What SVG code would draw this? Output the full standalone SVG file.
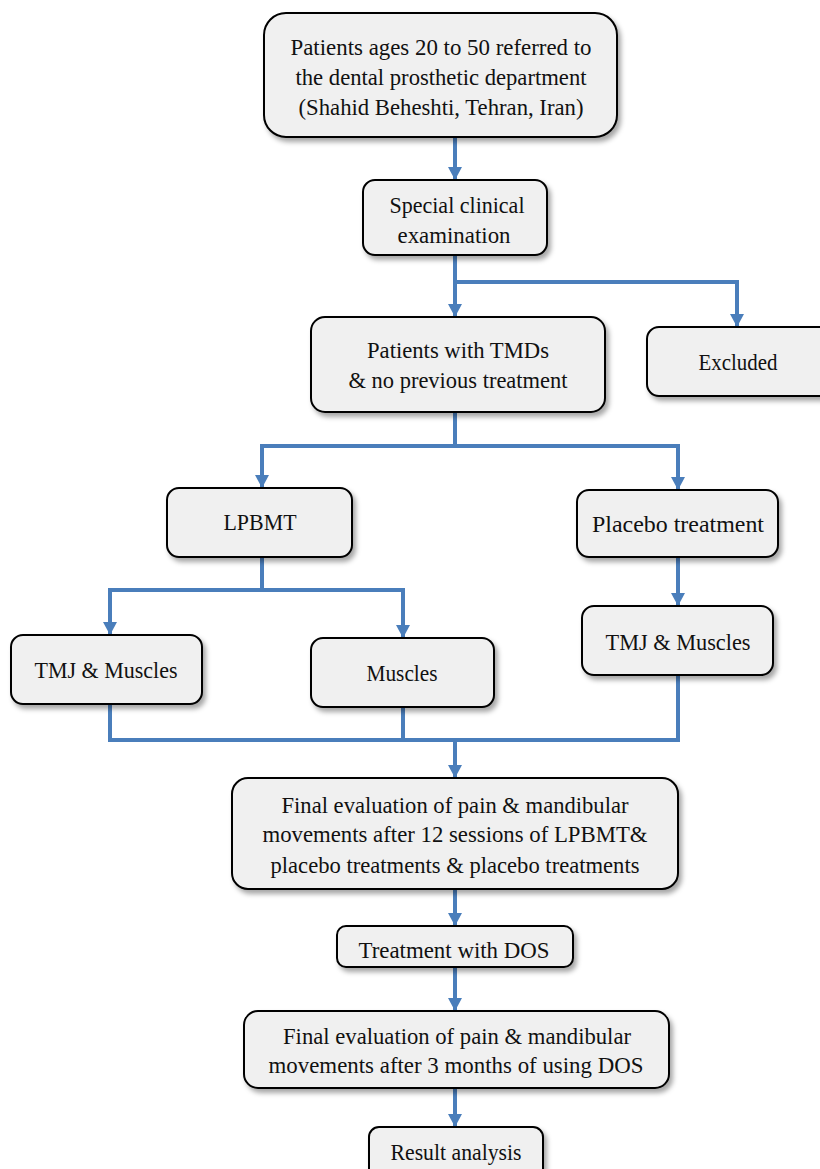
<svg xmlns="http://www.w3.org/2000/svg" width="820" height="1169" viewBox="0 0 820 1169">
<style>
.box{fill:#f0f0f0;stroke:#000;stroke-width:2;filter:url(#sh)}
.t{font-family:"Liberation Serif","Times New Roman",serif;font-size:24px;fill:#111;text-anchor:middle}
.c{fill:none;stroke:#4a7ebb;stroke-width:4}
</style>
<defs>
<filter id="sh" x="-10%" y="-10%" width="130%" height="140%">
<feDropShadow dx="3" dy="4" stdDeviation="2.5" flood-color="#000" flood-opacity="0.35"/>
</filter>
<marker id="ah" markerUnits="userSpaceOnUse" markerWidth="14" markerHeight="14" viewBox="0 0 14 14" refX="13" refY="7" orient="auto">
<path d="M0,0 L13,7 L0,14 Z" fill="#4a7ebb"/>
</marker>
</defs>
<g id="connectors">
<path class="c" d="M455,137 V180" marker-end="url(#ah)"/>
<path class="c" d="M455,255 V317" marker-end="url(#ah)"/>
<path class="c" d="M455,282 H737 V327" marker-end="url(#ah)"/>
<path class="c" d="M455,412 V446"/>
<path class="c" d="M455,446 H262 V488" marker-end="url(#ah)"/>
<path class="c" d="M455,446 H678 V490" marker-end="url(#ah)"/>
<path class="c" d="M262,557 V590"/>
<path class="c" d="M262,590 H110 V635" marker-end="url(#ah)"/>
<path class="c" d="M262,590 H403 V638" marker-end="url(#ah)"/>
<path class="c" d="M678,557 V606" marker-end="url(#ah)"/>
<path class="c" d="M110,704 V740 H678 V675"/>
<path class="c" d="M403,707 V740"/>
<path class="c" d="M455,740 V778" marker-end="url(#ah)"/>
<path class="c" d="M455,889 V926" marker-end="url(#ah)"/>
<path class="c" d="M455,967 V1011" marker-end="url(#ah)"/>
<path class="c" d="M455,1088 V1127" marker-end="url(#ah)"/>
</g>
<g id="n1"><rect class="box" x="264" y="13" width="353" height="124" rx="22"/>
<text class="t" x="441" y="55" textLength="301" lengthAdjust="spacingAndGlyphs">Patients  ages 20 to 50 referred  to</text>
<text class="t" x="441" y="85" textLength="291" lengthAdjust="spacingAndGlyphs">the  dental  prosthetic  department</text>
<text class="t" x="441" y="115" textLength="285" lengthAdjust="spacingAndGlyphs">(Shahid  Beheshti,  Tehran,  Iran)</text></g>
<g id="n2"><rect class="box" x="363" y="180" width="184" height="75" rx="12"/>
<text class="t" x="457" y="213" textLength="135" lengthAdjust="spacingAndGlyphs">Special clinical</text>
<text class="t" x="454" y="243" textLength="113" lengthAdjust="spacingAndGlyphs">examination</text></g>
<g id="n3"><rect class="box" x="311" y="317" width="294" height="95" rx="14"/>
<text class="t" x="458" y="358" textLength="182" lengthAdjust="spacingAndGlyphs">Patients  with  TMDs</text>
<text class="t" x="458" y="388" textLength="219" lengthAdjust="spacingAndGlyphs">&amp; no previous  treatment</text></g>
<g id="n4"><rect class="box" x="647" y="327" width="190" height="69" rx="12"/>
<text class="t" x="738" y="370" textLength="79" lengthAdjust="spacingAndGlyphs">Excluded</text></g>
<g id="n5"><rect class="box" x="167" y="488" width="185" height="69" rx="12"/>
<text class="t" x="260" y="530" textLength="73" lengthAdjust="spacingAndGlyphs">LPBMT</text></g>
<g id="n6"><rect class="box" x="577" y="490" width="201" height="67" rx="12"/>
<text class="t" x="678" y="532" textLength="172" lengthAdjust="spacingAndGlyphs">Placebo  treatment</text></g>
<g id="n7"><rect class="box" x="11" y="635" width="191" height="69" rx="12"/>
<text class="t" x="106" y="678" textLength="143" lengthAdjust="spacingAndGlyphs">TMJ  &amp; Muscles</text></g>
<g id="n8"><rect class="box" x="311" y="638" width="183" height="69" rx="12"/>
<text class="t" x="402" y="681" textLength="71" lengthAdjust="spacingAndGlyphs">Muscles</text></g>
<g id="n9"><rect class="box" x="582" y="606" width="191" height="69" rx="12"/>
<text class="t" x="678" y="650" textLength="145" lengthAdjust="spacingAndGlyphs">TMJ  &amp; Muscles</text></g>
<g id="n10"><rect class="box" x="232" y="778" width="446" height="111" rx="16"/>
<text class="t" x="455" y="813" textLength="347" lengthAdjust="spacingAndGlyphs">Final  evaluation  of pain &amp; mandibular</text>
<text class="t" x="455" y="842" textLength="385" lengthAdjust="spacingAndGlyphs">movements  after  12 sessions  of LPBMT&amp;</text>
<text class="t" x="455" y="873" textLength="369" lengthAdjust="spacingAndGlyphs">placebo  treatments  &amp; placebo  treatments</text></g>
<g id="n11"><rect class="box" x="337" y="926" width="236" height="41" rx="9"/>
<text class="t" x="454" y="958" textLength="191" lengthAdjust="spacingAndGlyphs">Treatment  with  DOS</text></g>
<g id="n12"><rect class="box" x="244" y="1011" width="425" height="77" rx="14"/>
<text class="t" x="457" y="1044" textLength="348" lengthAdjust="spacingAndGlyphs">Final  evaluation  of pain &amp; mandibular</text>
<text class="t" x="456" y="1073" textLength="375" lengthAdjust="spacingAndGlyphs">movements  after 3 months  of using  DOS</text></g>
<g id="n13"><rect class="box" x="369" y="1127" width="174" height="60" rx="10"/>
<text class="t" x="456" y="1160" textLength="131" lengthAdjust="spacingAndGlyphs">Result  analysis</text></g>
</svg>
